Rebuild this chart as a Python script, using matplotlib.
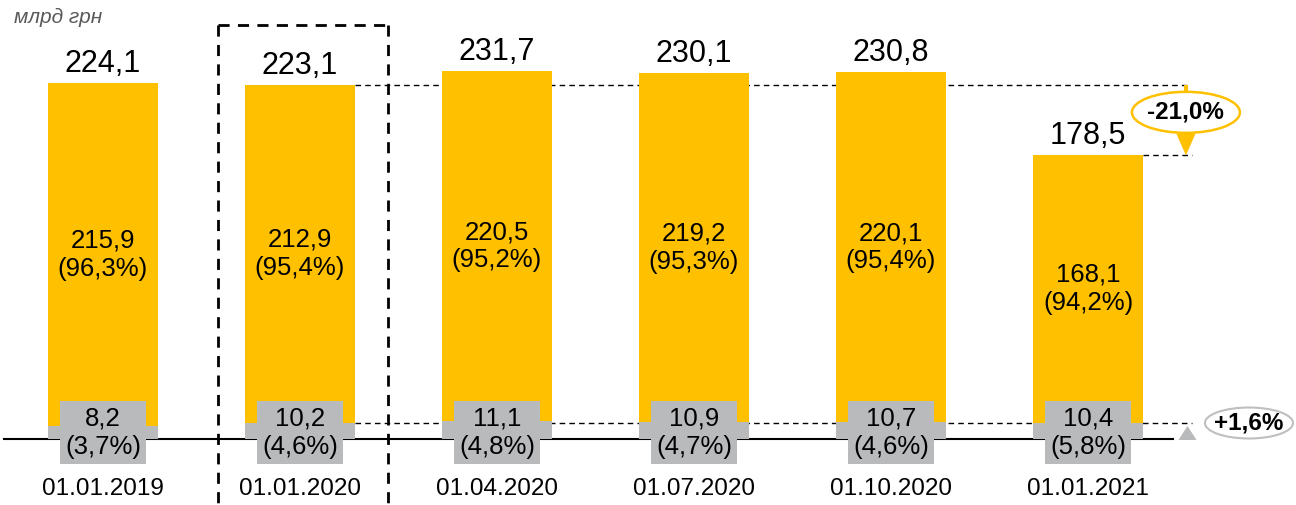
import matplotlib
matplotlib.use("Agg")
import matplotlib.pyplot as plt
from matplotlib.patches import Rectangle, Ellipse, Polygon

plt.rcParams['font.family'] = ['Liberation Sans', 'DejaVu Sans']

categories = ["01.01.2019", "01.01.2020", "01.04.2020", "01.07.2020", "01.10.2020", "01.01.2021"]
totals = [224.1, 223.1, 231.7, 230.1, 230.8, 178.5]
main_vals = [215.9, 212.9, 220.5, 219.2, 220.1, 168.1]
main_pct = [96.3, 95.4, 95.2, 95.3, 95.4, 94.2]
other_vals = [8.2, 10.2, 11.1, 10.9, 10.7, 10.4]
other_pct = [3.7, 4.6, 4.8, 4.7, 4.6, 5.8]
change_total = "-21,0%"
change_other = "+1,6%"
unit_label = "млрд грн"

YELLOW = "#FFC000"
GREY = "#B9BABC"

def fmt(v):
    return f"{v:.1f}".replace(".", ",")

fig = plt.figure(figsize=(12.96, 5.05), dpi=100)
ax = fig.add_axes([0, 0, 1, 1])
ax.set_xlim(-0.5228, 6.0558)
ax.set_ylim(-41.5, 276.3)
ax.axis("off")

x = list(range(len(categories)))
bw = 0.558
ax.bar(x, other_vals, width=bw, color=GREY, zorder=2)
ax.bar(x, main_vals, width=bw, bottom=other_vals, color=YELLOW, zorder=2)

# baseline axis
ax.plot([-0.5, 5.43], [0, 0], color="black", lw=1.5, zorder=1)

for i in x:
    # total label
    ax.text(i, totals[i] + 6.9, fmt(totals[i]), ha="center", va="baseline",
            fontsize=22, color="black", zorder=5)
    # main label
    mid = other_vals[i] + main_vals[i] / 2
    ax.text(i, mid, f"{fmt(main_vals[i])}\n({fmt(main_pct[i])}%)", ha="center",
            va="center", fontsize=18.5, linespacing=1.22, zorder=5)
    # grey label box
    ax.add_patch(Rectangle((i - 0.2183, -15.7), 0.4366, 39.6, facecolor=GREY,
                           edgecolor="none", zorder=3))
    ax.text(i, 4.1, f"{fmt(other_vals[i])}\n({fmt(other_pct[i])}%)", ha="center",
            va="center", fontsize=18.5, linespacing=1.25, zorder=5)
    # category label
    ax.text(i, -31.6, categories[i], ha="center", va="center", fontsize=17.5, zorder=5)

# unit label
ax.text(-0.452, 265.6, unit_label, ha="left", va="center", fontsize=15,
        style="italic", color="#595959")

# dashed box around second bar
bx0, bx1, btop = 0.584, 1.447, 260.5
dash_kw = dict(color="black", lw=2, linestyle=(0, (4, 3)), zorder=4)
ax.plot([bx0, bx0], [btop, -45], **dash_kw)
ax.plot([bx1, bx1], [btop, -45], **dash_kw)
ax.plot([bx0, bx1], [btop, btop], **dash_kw)

# reference dashed lines
thin = dict(color="black", lw=1, linestyle=(0, (4, 3)), zorder=1)
ax.plot([1 + bw / 2, 5.497], [totals[1], totals[1]], **thin)
ax.plot([5 + bw / 2, 5.53], [totals[5], totals[5]], **thin)
ax.plot([1 + bw / 2, 5.53], [other_vals[1], other_vals[1]], **thin)

# yellow arrow for total change
ax_x = 5.497
head_len = 13.8
head_hw = 0.049
ax.plot([ax_x, ax_x], [totals[1], totals[5] + head_len], color=YELLOW, lw=3, zorder=4,
        solid_capstyle="butt")
ax.add_patch(Polygon([[ax_x - head_hw, totals[5] + head_len],
                      [ax_x + head_hw, totals[5] + head_len],
                      [ax_x, totals[5]]], closed=True, facecolor=YELLOW,
                     edgecolor="none", zorder=4))
ax.add_patch(Ellipse((ax_x, 205.6), 0.548, 25.8, facecolor="white",
                     edgecolor=YELLOW, lw=1.8, zorder=5))
ax.text(ax_x, 205.6, change_total, ha="center", va="center", fontsize=17.5,
        fontweight="bold", zorder=6)

# grey triangle for other change
tri = Polygon([[5.459, -0.6], [5.551, -0.6], [5.505, 8.2]], closed=True,
              facecolor=GREY, edgecolor="none", zorder=4)
ax.add_patch(tri)
ax.add_patch(Ellipse((5.817, 10.1), 0.447, 19.5, facecolor="white",
                     edgecolor="#BFBFBF", lw=1.5, zorder=5))
ax.text(5.817, 10.1, change_other, ha="center", va="center", fontsize=17.5,
        fontweight="bold", zorder=6)

fig.savefig("out.png", dpi=100)
